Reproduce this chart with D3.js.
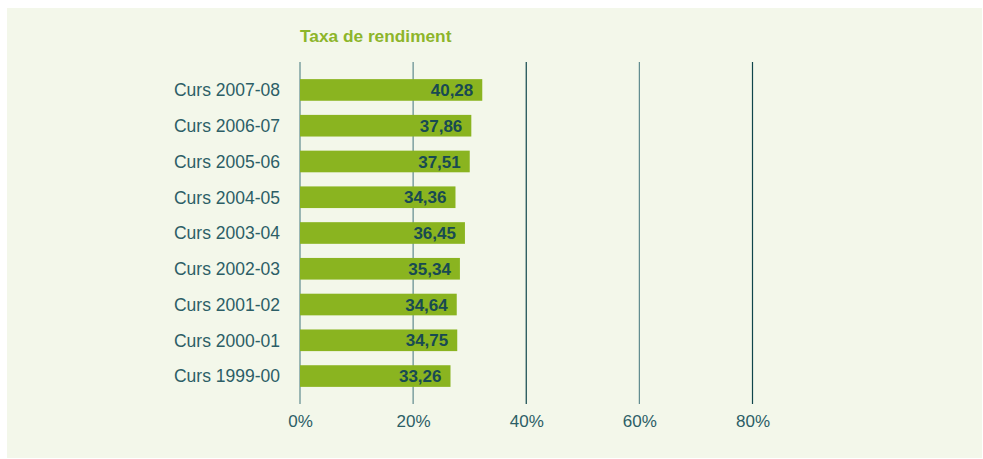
<!DOCTYPE html>
<html><head><meta charset="utf-8">
<script src="https://cdn.jsdelivr.net/npm/d3@7"></script>
<style>html,body{margin:0;padding:0;background:#fff;}svg{display:block;}</style>
</head><body>
<script>
const categories = ["Curs 2007-08","Curs 2006-07","Curs 2005-06","Curs 2004-05","Curs 2003-04","Curs 2002-03","Curs 2001-02","Curs 2000-01","Curs 1999-00"];
const values = [40.28,37.86,37.51,34.36,36.45,35.34,34.64,34.75,33.26];
const tickValues = [0,20,40,60,80];
const title = "Taxa de rendiment";

const W = 983, H = 459;
const font = "'Liberation Sans', Arial, Helvetica, sans-serif";
const svg = d3.select("body").append("svg").attr("width", W).attr("height", H);
svg.append("rect").attr("x",7).attr("y",8).attr("width",975).attr("height",450).attr("fill","#f3f7ea");

const x = d3.scaleLinear().domain([0,80]).range([300,752.5]);
// bars in the original are drawn on a 0-100 scale across the same width
const xBar = d3.scaleLinear().domain([0,100]).range([300,752.5]);
const y = d3.scaleBand().domain(categories).range([65,401]).padding(0.395);

// gridlines
svg.append("g").selectAll("line").data(tickValues).join("line")
  .attr("x1", d => x(d)).attr("x2", d => x(d))
  .attr("y1", 62).attr("y2", 404)
  .attr("stroke", d => (d===40||d===80) ? "#0f454b" : "#5f8a8e").attr("stroke-width", 1.2);

// bars
svg.append("g").selectAll("rect").data(values).join("rect")
  .attr("x", xBar(0)).attr("y", (d,i) => y(categories[i]))
  .attr("width", d => xBar(d) - xBar(0)).attr("height", y.bandwidth())
  .attr("fill", "#8ab420");

// value labels
svg.append("g").selectAll("text").data(values).join("text")
  .attr("x", d => xBar(d) - 9).attr("y", (d,i) => y(categories[i]) + y.bandwidth()/2)
  .attr("dy","0.36em").attr("text-anchor","end")
  .attr("font-family", font).attr("font-size", 17).attr("font-weight","bold")
  .attr("fill","#184a52")
  .text(d => d3.format(".2f")(d).replace(".", ","));

// category labels
svg.append("g").selectAll("text").data(categories).join("text")
  .attr("x", 280).attr("y", d => y(d) + y.bandwidth()/2)
  .attr("dy","0.36em").attr("text-anchor","end")
  .attr("font-family", font).attr("font-size", 17.5)
  .attr("fill","#2c5e66").text(d => d);

// x axis tick labels
const axis = svg.append("g").attr("transform","translate(0,404)")
  .call(d3.axisBottom(x).tickValues(tickValues).tickSize(0).tickPadding(11).tickFormat(d => d + "%"));
axis.select(".domain").remove();
axis.selectAll("text").attr("font-family", font).attr("font-size", 17).attr("fill","#2c5e66");

// title
svg.append("text").attr("x", 300).attr("y", 42)
  .attr("font-family", font).attr("font-size", 17.3).attr("font-weight","bold")
  .attr("fill","#8db52a").text(title);
</script>
</body></html>
